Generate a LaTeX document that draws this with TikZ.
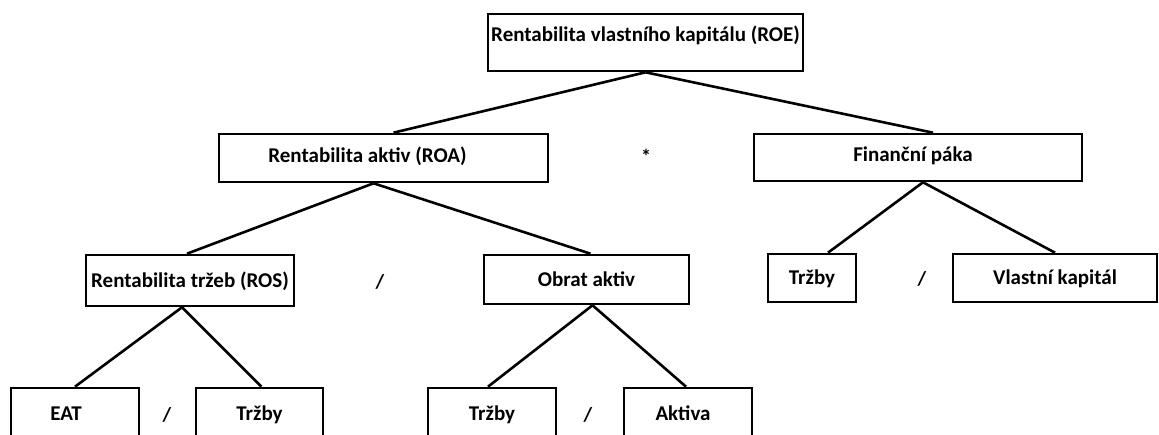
\documentclass[tikz,border=0pt]{standalone}
\usepackage{fontspec}
\setmainfont{Carlito}
\usetikzlibrary{positioning}

\tikzset{
	ukazatel/.style={draw=black, line width=2.6pt, fill=white, inner sep=0pt, text height=15pt, text depth=1pt, font=\fontsize{21}{24}\selectfont\bfseries},
	znak/.style={inner sep=0pt, font=\fontsize{20}{22}\selectfont\bfseries},
	vazba/.style={black, line width=2.6pt}
}

\begin{document}
\begin{tikzpicture}[x=1pt, y=-1pt]
			\useasboundingbox (0,0) rectangle (1159,435);
			\clip (0,0) rectangle (1159,435);
			\node[ukazatel, minimum width=315pt, minimum height=57pt, text depth=16pt] (roe) at (645.5,42.5) {Rentabilita vlastního kapitálu (ROE)};
			\node[ukazatel, minimum width=329pt, minimum height=48pt, text depth=5pt] (roa) at (383.5,158) {\hspace*{-32pt}Rentabilita aktiv (ROA)};
			\node[ukazatel, minimum width=328pt, minimum height=47pt, text depth=7pt] (fin) at (918,157.5) {\hspace*{-10pt}Finanční páka};
			\node[ukazatel, minimum width=208pt, minimum height=51pt] (ros) at (190,280.5) {Rentabilita tržeb (ROS)};
			\node[ukazatel, minimum width=205pt, minimum height=49pt] (obrat) at (586.5,279.5) {Obrat aktiv};
			\node[ukazatel, minimum width=88pt, minimum height=48pt] (trzbyF) at (812,278) {Tržby};
			\node[ukazatel, minimum width=204pt, minimum height=48pt] (vk) at (1055,278) {Vlastní kapitál};
			\node[ukazatel, minimum width=128pt, minimum height=50pt] (eat) at (75,413) {\hspace*{-18pt}EAT};
			\node[ukazatel, minimum width=127pt, minimum height=50pt] (trzbyR) at (259.5,413) {Tržby};
			\node[ukazatel, minimum width=128pt, minimum height=50pt] (trzbyO) at (492,413) {Tržby};
			\node[ukazatel, minimum width=128pt, minimum height=50pt] (aktiva) at (688,413) {\hspace*{-10pt}Aktiva};
			\node[znak] (krat) at (646,156) {*};
			\node[znak] (delA) at (380,282) {/};
			\node[znak] (delB) at (922,279) {/};
			\node[znak] (delC) at (167,415) {/};
			\node[znak] (delD) at (588,415) {/};
			\draw[vazba] (roe.south) -- ([xshift=10pt]roa.north);
			\draw[vazba] (roe.south) -- ([xshift=15pt]fin.north);
			\draw[vazba] ([xshift=-10pt]roa.south) -- ([xshift=-3pt]ros.north);
			\draw[vazba] ([xshift=-10pt]roa.south) -- ([xshift=4pt]obrat.north);
			\draw[vazba] ([xshift=5pt]fin.south) -- ([xshift=16pt]trzbyF.north);
			\draw[vazba] ([xshift=5pt]fin.south) -- (vk.north);
			\draw[vazba] ([xshift=-8pt]ros.south) -- (eat.north);
			\draw[vazba] ([xshift=-8pt]ros.south) -- ([xshift=2pt]trzbyR.north);
			\draw[vazba] ([xshift=6pt]obrat.south) -- ([xshift=-4pt]trzbyO.north);
			\draw[vazba] ([xshift=6pt]obrat.south) -- ([xshift=-2pt]aktiva.north);
		\end{tikzpicture}
\end{document}
